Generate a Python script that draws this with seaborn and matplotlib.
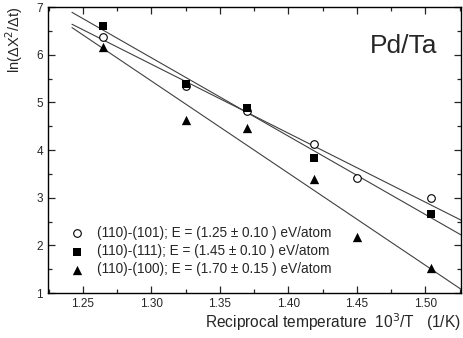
import matplotlib
matplotlib.use("Agg")
import matplotlib.pyplot as plt
import seaborn as sns
import numpy as np
import pandas as pd
from matplotlib.ticker import MultipleLocator

# measured points, x = 10^3/T (1/K), y = ln(dX^2/dt)
x_101 = [1.265, 1.325, 1.370, 1.419, 1.450, 1.504]
y_101 = [6.38, 5.34, 4.83, 4.13, 3.42, 3.00]

x_111 = [1.265, 1.325, 1.370, 1.419, 1.504]
y_111 = [6.61, 5.39, 4.88, 3.83, 2.66]

x_100 = [1.265, 1.325, 1.370, 1.419, 1.450, 1.504]
y_100 = [6.17, 4.63, 4.46, 3.39, 2.18, 1.53]

# fitted Arrhenius lines (end points)
fit_x = [1.242, 1.526]
fit_101 = [6.64, 2.53]
fit_111 = [6.89, 2.22]
fit_100 = [6.57, 1.08]

labels = ["(110)-(101); E = (1.25 \u00b1 0.10 ) eV/atom",
          "(110)-(111); E = (1.45 \u00b1 0.10 ) eV/atom",
          "(110)-(100); E = (1.70 \u00b1 0.15 ) eV/atom"]

sns.set_style("ticks")
plt.rcParams["font.family"] = ["Liberation Sans", "DejaVu Sans"]

fig = plt.figure(figsize=(4.63, 3.38), dpi=100)
ax = fig.add_axes([0.1037, 0.133, 0.892, 0.846])

for fy in [fit_101, fit_111, fit_100]:
    sns.lineplot(x=fit_x, y=fy, ax=ax, color="#404040", lw=0.8)

sns.scatterplot(x=x_101, y=y_101, ax=ax, marker="o", s=30, facecolor="white",
                edgecolor="black", linewidth=0.8, label=labels[0], zorder=3)
sns.scatterplot(x=x_111, y=y_111, ax=ax, marker="s", s=30, color="black",
                edgecolor="black", linewidth=0, label=labels[1], zorder=3)
sns.scatterplot(x=x_100, y=y_100, ax=ax, marker="^", s=45, color="black",
                edgecolor="black", linewidth=0, label=labels[2], zorder=3)

ax.set_xlim(1.2245, 1.526)
ax.set_ylim(1, 7)
ax.xaxis.set_major_locator(MultipleLocator(0.05))
ax.xaxis.set_minor_locator(MultipleLocator(0.025))
ax.yaxis.set_major_locator(MultipleLocator(1))
ax.yaxis.set_minor_locator(MultipleLocator(0.5))
ax.xaxis.set_major_formatter(matplotlib.ticker.FormatStrFormatter("%.2f"))
ax.tick_params(which="both", direction="in", top=True, right=True, labelsize=8.5, width=0.9)
ax.tick_params(which="major", length=5)
ax.tick_params(which="minor", length=3)
for s in ax.spines.values():
    s.set_linewidth(1.0)
    s.set_color("black")

ax.set_xlabel("Reciprocal temperature  10$^3$/T   (1/K)", fontsize=11.2)
ax.xaxis.set_label_coords(0.69, -0.063)
ax.set_ylabel("ln(\u0394X$^2$/\u0394t)", fontsize=10.5)
ax.yaxis.set_label_coords(-0.056, 0.885)

ax.text(0.86, 0.865, "Pd/Ta", transform=ax.transAxes, fontsize=19,
        ha="center", va="center")

ax.legend(loc="lower left", bbox_to_anchor=(0.04, 0.04), frameon=False,
          fontsize=9.8, handlelength=1.0, handletextpad=1.0,
          labelspacing=0.3, borderaxespad=0)

fig.savefig("out.png", dpi=100)
